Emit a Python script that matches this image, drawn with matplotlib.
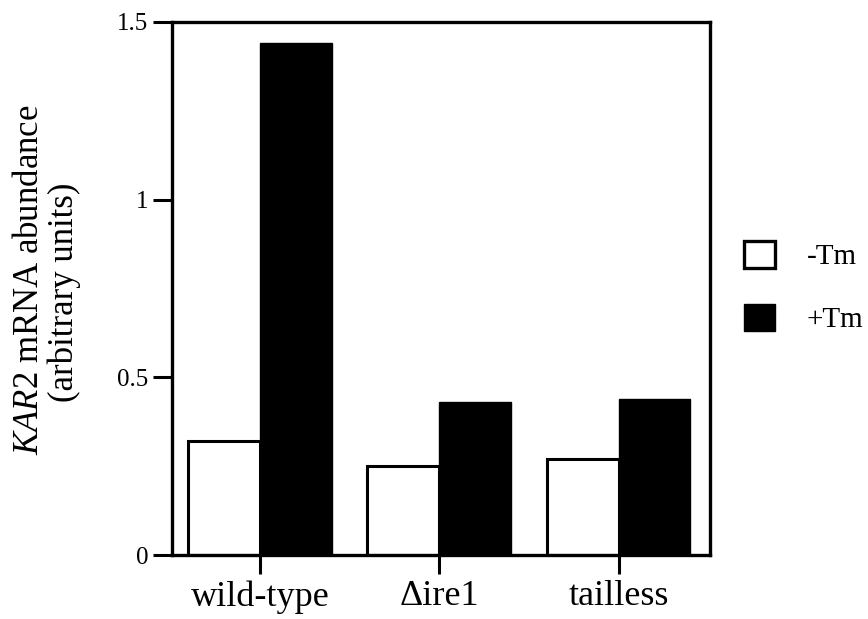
import matplotlib
matplotlib.use("Agg")
import matplotlib.pyplot as plt
from matplotlib.patches import Patch
import numpy as np

plt.rcParams['font.family'] = ['Liberation Serif', 'DejaVu Serif']
plt.rcParams['mathtext.fontset'] = 'custom'
plt.rcParams['mathtext.rm'] = 'Liberation Serif'
plt.rcParams['mathtext.it'] = 'Liberation Serif:italic'

# data
strains = ["wild-type", "\u0394ire1", "tailless"]
minus_tm = [0.32, 0.25, 0.27]
plus_tm = [1.44, 0.43, 0.44]
y_ticks = [0, 0.5, 1, 1.5]
y_tick_labels = ["0", "0.5", "1", "1.5"]

W, H = 868, 619
fig = plt.figure(figsize=(W / 100, H / 100), dpi=100)
ax = fig.add_axes([172 / W, 1 - 555 / H, 538 / W, 533 / H])

x = np.arange(len(strains))
w = 0.4
ax.bar(x - w / 2, minus_tm, w, color="white", edgecolor="black", linewidth=2.2)
ax.bar(x + w / 2, plus_tm, w, color="black", edgecolor="black", linewidth=1)

ax.set_xlim(-0.49, 2.51)
ax.set_ylim(0, 1.5)
ax.set_xticks(x)
ax.set_xticklabels(strains, fontsize=26)
ax.set_yticks(y_ticks)
ax.set_yticklabels(y_tick_labels, fontsize=18)
ax.tick_params(axis="x", length=14, width=2.2, direction="out", pad=4)
ax.tick_params(axis="y", length=14, width=2.2, direction="out", pad=3)
for s in ax.spines.values():
    s.set_linewidth(2.4)

# two-line y label
fig.text(30 / W, 1 - 280 / H, r"$\it{KAR}$2 mRNA abundance", rotation=90,
         fontsize=25, ha="center", va="center")
fig.text(64 / W, 1 - 292 / H, "(arbitrary units)", rotation=90,
         fontsize=25, ha="center", va="center")

handles = [Patch(facecolor="white", edgecolor="black", linewidth=2.4),
           Patch(facecolor="black", edgecolor="black")]
fig.legend(handles, ["-Tm", "+Tm"], loc="center left",
           bbox_to_anchor=(744 / W, 1 - 287 / H),
           frameon=False, fontsize=21, handlelength=1.05, handleheight=1.05,
           handletextpad=1.1, labelspacing=1.15, borderpad=0, borderaxespad=0)

fig.savefig("out.png", dpi=100)
